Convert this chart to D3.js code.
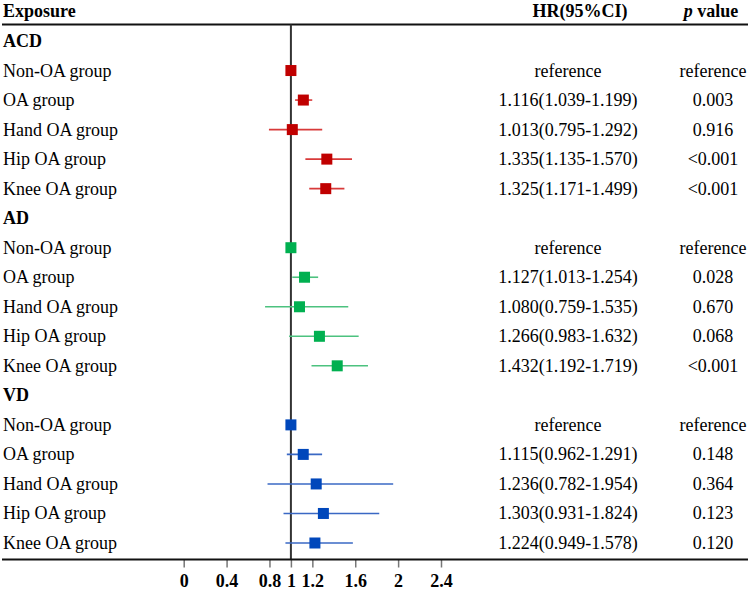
<!DOCTYPE html>
<html>
<head>
<meta charset="utf-8">
<script src="https://cdn.jsdelivr.net/npm/d3@7"></script>
<style>
  html, body { margin: 0; padding: 0; background: #fff; }
  svg { display: block; }
  text { font-family: "Liberation Serif", "Times New Roman", serif; }
</style>
</head>
<body>
<svg id="chart" width="750" height="589"></svg>
<script>
// ---- data ----
const outcomes = ["ACD", "AD", "VD"];
const subgroups = ["Non-OA group", "OA group", "Hand OA group", "Hip OA group", "Knee OA group"];
const outcomeColors = ["#c00000", "#00b050", "#0047bb"];
const ciColors = ["#d83a3a", "#4cc27f", "#3a68c4"];

const hrACD    = [1, 1.116, 1.013, 1.335, 1.325];
const lowerACD = [null, 1.039, 0.795, 1.135, 1.171];
const upperACD = [null, 1.199, 1.292, 1.570, 1.499];
const pACD     = ["reference", "0.003", "0.916", "<0.001", "<0.001"];

const hrAD    = [1, 1.127, 1.080, 1.266, 1.432];
const lowerAD = [null, 1.013, 0.759, 0.983, 1.192];
const upperAD = [null, 1.254, 1.535, 1.632, 1.719];
const pAD     = ["reference", "0.028", "0.670", "0.068", "<0.001"];

const hrVD    = [1, 1.115, 1.236, 1.303, 1.224];
const lowerVD = [null, 0.962, 0.782, 0.931, 0.949];
const upperVD = [null, 1.291, 1.954, 1.824, 1.578];
const pVD     = ["reference", "0.148", "0.364", "0.123", "0.120"];

const tickValues = [0, 0.4, 0.8, 1, 1.2, 1.6, 2, 2.4];
const tickLabels = ["0", "0.4", "0.8", "1", "1.2", "1.6", "2", "2.4"];

// ---- build rows ----
const series = [
  {hr: hrACD, lo: lowerACD, hi: upperACD, p: pACD},
  {hr: hrAD, lo: lowerAD, hi: upperAD, p: pAD},
  {hr: hrVD, lo: lowerVD, hi: upperVD, p: pVD}
];
const rows = [];
outcomes.forEach((o, gi) => {
  rows.push({type: "header", label: o, g: gi});
  subgroups.forEach((s, si) => {
    const d = series[gi];
    rows.push({
      type: "item", label: s, g: gi,
      hr: d.hr[si], lo: d.lo[si], hi: d.hi[si], p: d.p[si],
      hrText: d.lo[si] == null ? "reference"
        : d.hr[si].toFixed(3) + "(" + d.lo[si].toFixed(3) + "-" + d.hi[si].toFixed(3) + ")"
    });
  });
});

// ---- layout ----
const svg = d3.select("#chart");
const x = d3.scaleLinear().domain([0, 2.4]).range([183.7, 441]);
const y = d3.scaleLinear().domain([0, rows.length - 1]).range([41, 543]);
const axisY = 559.5, topLineY = 24.5;
const fs = 18;

// header
svg.append("text").attr("x", 3).attr("y", 17).attr("font-size", fs).attr("font-weight", "bold").text("Exposure");
svg.append("text").attr("x", 580).attr("y", 17).attr("font-size", fs).attr("font-weight", "bold")
  .attr("text-anchor", "middle").text("HR(95%CI)");
const pv = svg.append("text").attr("x", 711).attr("y", 17).attr("font-size", fs).attr("font-weight", "bold")
  .attr("text-anchor", "middle");
pv.append("tspan").attr("font-style", "italic").text("p");
pv.append("tspan").text(" value");

// horizontal rules
svg.append("line").attr("x1", 2).attr("x2", 748).attr("y1", topLineY).attr("y2", topLineY)
  .attr("stroke", "#111").attr("stroke-width", 2);

// reference line at HR = 1
svg.append("line").attr("x1", x(1)).attr("x2", x(1)).attr("y1", topLineY).attr("y2", axisY)
  .attr("stroke", "#333").attr("stroke-width", 2);

// rows
const rowG = svg.selectAll("g.row").data(rows).join("g").attr("class", "row")
  .attr("transform", (d, i) => `translate(0,${y(i)})`);

rowG.append("text").attr("x", 3).attr("y", 6).attr("font-size", fs)
  .attr("font-weight", d => d.type === "header" ? "bold" : "normal")
  .attr("fill", "#000").text(d => d.label);

const items = rowG.filter(d => d.type === "item");
items.append("text").attr("x", 568).attr("y", 6).attr("font-size", fs).attr("text-anchor", "middle")
  .text(d => d.hrText);
items.append("text").attr("x", 713).attr("y", 6).attr("font-size", fs).attr("text-anchor", "middle")
  .text(d => d.p);

items.filter(d => d.lo != null).append("line")
  .attr("x1", d => x(d.lo)).attr("x2", d => x(d.hi)).attr("y1", 0).attr("y2", 0)
  .attr("stroke", d => ciColors[d.g]).attr("stroke-width", 1.6);

const sq = 11;
items.append("rect")
  .attr("x", d => x(d.hr) - sq / 2).attr("y", -sq / 2)
  .attr("width", sq).attr("height", sq)
  .attr("fill", d => outcomeColors[d.g]);

// x axis
const axis = d3.axisBottom(x).tickValues(tickValues).tickSize(8)
  .tickFormat((d, i) => tickLabels[i]);
const ag = svg.append("g").attr("transform", `translate(0,${axisY})`).call(axis);
ag.select(".domain").remove();
ag.selectAll(".tick line").attr("stroke", "#777").attr("stroke-width", 1.5);
ag.selectAll(".tick text").attr("font-size", fs).attr("font-weight", "bold").attr("fill", "#000")
  .attr("font-family", "Liberation Serif, Times New Roman, serif").attr("dy", 0).attr("y", 27);
svg.append("line").attr("x1", 2).attr("x2", 748).attr("y1", axisY).attr("y2", axisY)
  .attr("stroke", "#111").attr("stroke-width", 2);
</script>
</body>
</html>
